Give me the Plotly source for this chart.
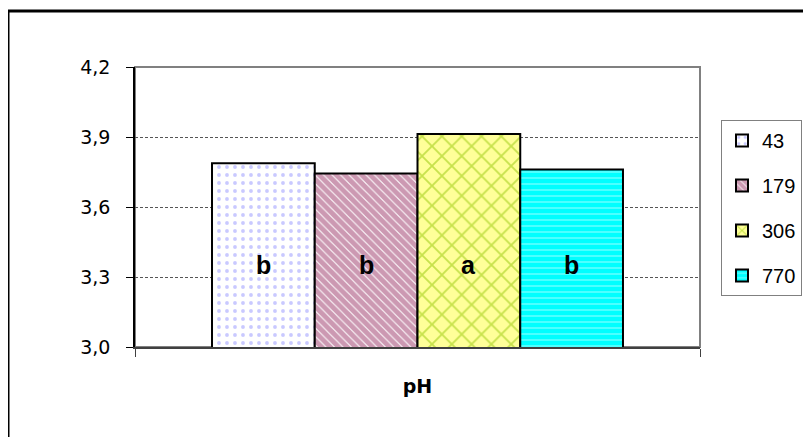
import plotly.graph_objects as go

categories = ["pH"]
series_names = ["43", "179", "306", "770"]
values = [3.787, 3.744, 3.913, 3.761]
letters = ["b", "b", "a", "b"]
y_ticks = [3.0, 3.3, 3.6, 3.9, 4.2]

bg_colors = ["#ffffff", "#ffffff", "#ffff99", "#00ffff"]
fg_colors = ["#9494ff", "#993366", "#8fc400", "#ccffff"]
shapes_p = [".", "\\", "x", "-"]
sizes_p = [8, 6, 14, 6]
solid_p = [0.18, 0.85, 0.25, 0.25]

BARGAP = 0.2726
LABEL_Y = 3.35

# the page body has an 8px margin; the figure is sized to fill the rest
W, H = 803, 429
ML, MR, MT, MB = 127, 111, 59, 90
PW, PH = W - ML - MR, H - MT - MB

fig = go.Figure()
for i, name in enumerate(series_names):
    fig.add_trace(go.Bar(
        x=categories, y=[values[i]], name=name, legendgroup=name,
        marker=dict(color=bg_colors[i],
                    line=dict(color="black", width=2),
                    pattern=dict(shape=shapes_p[i], fgcolor=fg_colors[i],
                                 bgcolor=bg_colors[i], size=sizes_p[i],
                                 solidity=solid_p[i])),
    ))

n = len(series_names)
w = (1 - BARGAP) / n
for i, t in enumerate(letters):
    cx = -0.5 * (1 - BARGAP) + (i + 0.5) * w
    fig.add_annotation(x=cx, y=LABEL_Y, xref="x", yref="y", text="<b>%s</b>" % t,
                       showarrow=False, font=dict(family="Liberation Sans", size=25, color="black"))

# gray frame of plot area
fig.add_shape(type="rect", xref="paper", yref="paper", x0=0, x1=1, y0=0, y1=1,
              line=dict(color="#808080", width=2), layer="below")
# outer chart border (left & top visible)
bx = -ML / PW
by = (PH + MT - 3) / PH
fig.add_shape(type="line", xref="paper", yref="paper", x0=bx, x1=bx, y0=-2, y1=by,
              line=dict(color="black", width=3))
fig.add_shape(type="line", xref="paper", yref="paper", x0=bx, x1=3, y0=by, y1=by,
              line=dict(color="black", width=3))

fig.update_layout(
    width=W, height=H,
    margin=dict(l=ML, r=MR, t=MT, b=MB, autoexpand=False),
    paper_bgcolor="white", plot_bgcolor="white",
    barmode="group", bargap=BARGAP, bargroupgap=0,
    separators=", ",
    font=dict(family="DejaVu Sans", color="black"),
    showlegend=True,
    legend=dict(x=713 / W, y=1 - 112 / H, xref="container", yref="container",
                xanchor="left", yanchor="top",
                bordercolor="#808080", borderwidth=1, bgcolor="white",
                font=dict(size=20, family="Liberation Sans"),
                tracegroupgap=16, itemwidth=30),
    xaxis=dict(type="category", range=[-0.5, 0.5], showline=True, linecolor="#404040", linewidth=2,
               ticks="outside", tickson="boundaries", ticklen=8, tickcolor="#404040",
               showticklabels=False, showgrid=False,
               title=dict(text="<b>pH</b>", font=dict(size=19, family="DejaVu Sans"), standoff=32)),
    yaxis=dict(range=[3.0, 4.2], tickvals=y_ticks, tickformat=".1f", showline=True,
               linecolor="black", linewidth=1.5, ticks="outside", ticklen=7, tickcolor="black",
               ticklabelstandoff=12,
               showgrid=True, gridcolor="#555555", gridwidth=1, griddash="3px,2px",
               tickfont=dict(size=19, family="DejaVu Sans"), zeroline=False),
)

fig.write_html("out.html")
